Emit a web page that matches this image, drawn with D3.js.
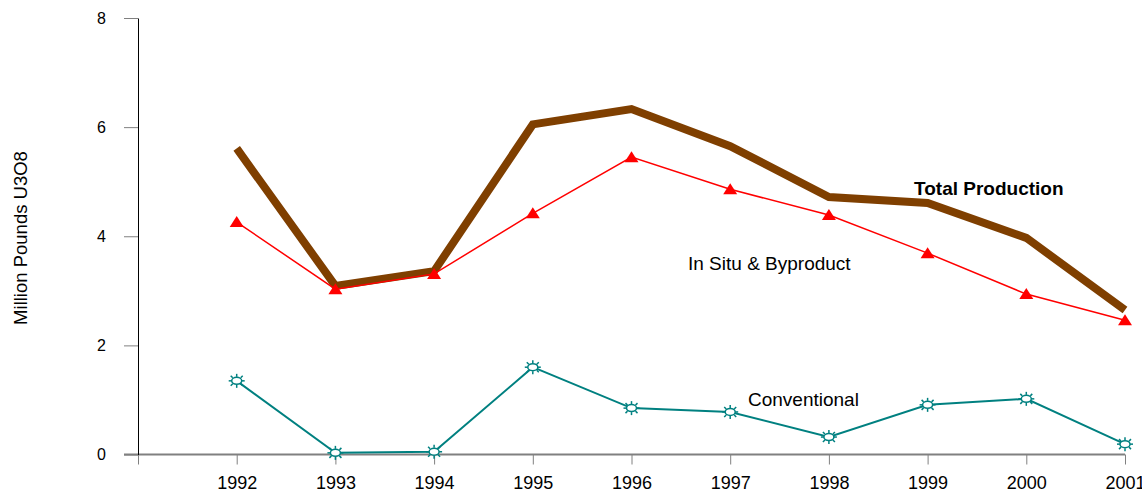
<!DOCTYPE html>
<html>
<head>
<meta charset="utf-8">
<script src="https://cdn.jsdelivr.net/npm/d3@7"></script>
<style>
  body { margin: 0; background: #fff; }
  text { font-family: "Liberation Sans", Arial, sans-serif; }
</style>
</head>
<body>
<script>
// Data
var years = [1992, 1993, 1994, 1995, 1996, 1997, 1998, 1999, 2000, 2001];
var totalProduction = [5.61, 3.09, 3.36, 6.05, 6.33, 5.65, 4.72, 4.61, 3.97, 2.65];
var inSitu = [4.26, 3.03, 3.31, 4.42, 5.45, 4.86, 4.39, 3.69, 2.94, 2.46];
var conventional = [1.35, 0.03, 0.05, 1.60, 0.85, 0.78, 0.32, 0.91, 1.02, 0.19];
var yTicks = [0, 2, 4, 6, 8];

var svgWidth = 1142;
var svgHeight = 495;

var margin = { top: 18, right: 17, bottom: 40, left: 138 };
var width = svgWidth - margin.left - margin.right;
var height = svgHeight - margin.top - margin.bottom;

var svg = d3.select("body")
  .append("svg")
  .attr("width", svgWidth)
  .attr("height", svgHeight);

var chartGroup = svg.append("g")
  .attr("transform", `translate(${margin.left}, ${margin.top})`);

// scales: the y axis sits where 1991 would be
var xScale = d3.scaleLinear()
  .domain([1991, 2001])
  .range([0, 987]);

var yScale = d3.scaleLinear()
  .domain([0, 8])
  .range([height - 0.5, 0]);

// x axis
var bottomAxis = d3.axisBottom(xScale)
  .tickValues([1991].concat(years))
  .tickFormat(d => d === 1991 ? "" : d)
  .tickSizeInner(10)
  .tickSizeOuter(0)
  .tickPadding(12);

var xAxisG = chartGroup.append("g")
  .attr("transform", `translate(0, ${yScale(0)})`)
  .call(bottomAxis);
xAxisG.select(".domain").remove();
xAxisG.append("line")
  .attr("x1", -14).attr("x2", xScale(2001))
  .attr("stroke", "#808080").attr("stroke-width", 2);
xAxisG.selectAll(".tick line").attr("stroke", "#808080");
xAxisG.selectAll("text")
  .attr("font-size", "18px")
  .attr("fill", "#000")
  .attr("font-family", "Liberation Sans, Arial, sans-serif");

// y axis
var leftAxis = d3.axisLeft(yScale)
  .tickValues(yTicks)
  .tickSizeInner(14)
  .tickSizeOuter(0)
  .tickPadding(18);

var yAxisG = chartGroup.append("g").call(leftAxis);
yAxisG.select(".domain").attr("stroke", "#000");
yAxisG.selectAll(".tick line").attr("stroke", "#808080");
yAxisG.selectAll("text")
  .attr("font-size", "16px")
  .attr("fill", "#000")
  .attr("font-family", "Liberation Sans, Arial, sans-serif");

var line = d3.line()
  .x((d, i) => xScale(years[i]))
  .y(d => yScale(d));

// conventional
chartGroup.append("path")
  .datum(conventional)
  .attr("fill", "none")
  .attr("stroke", "#008080")
  .attr("stroke-width", 2)
  .attr("d", line);

// starburst markers
var sun = chartGroup.selectAll(".sun")
  .data(conventional)
  .enter()
  .append("g")
  .attr("class", "sun")
  .attr("transform", (d, i) => `translate(${xScale(years[i])}, ${yScale(d)})`);
sun.append("ellipse")
  .attr("rx", 5).attr("ry", 3.5)
  .attr("fill", "#fff")
  .attr("stroke", "#008080")
  .attr("stroke-width", 1.5);
sun.selectAll("line")
  .data([[0, -4, 0, -7], [0, 4, 0, 7], [-5, 0, -8, 0], [5, 0, 8, 0],
         [-4, -3, -6, -5], [4, -3, 6, -5], [-4, 3, -6, 5], [4, 3, 6, 5]])
  .enter()
  .append("line")
  .attr("x1", d => d[0]).attr("y1", d => d[1])
  .attr("x2", d => d[2]).attr("y2", d => d[3])
  .attr("stroke", "#008080")
  .attr("stroke-width", 1.5);

// total production
chartGroup.append("path")
  .datum(totalProduction)
  .attr("fill", "none")
  .attr("stroke", "#7f3f00")
  .attr("stroke-width", 8)
  .attr("stroke-linejoin", "miter")
  .attr("d", line);

// in situ & byproduct
chartGroup.append("path")
  .datum(inSitu)
  .attr("fill", "none")
  .attr("stroke", "#ff0000")
  .attr("stroke-width", 1.5)
  .attr("d", line);

chartGroup.selectAll(".tri")
  .data(inSitu)
  .enter()
  .append("path")
  .attr("class", "tri")
  .attr("d", "M0,-6L7,5L-7,5Z")
  .attr("fill", "#ff0000")
  .attr("transform", (d, i) => `translate(${xScale(years[i])}, ${yScale(d)})`);

// series labels
svg.append("text")
  .attr("x", 914).attr("y", 195)
  .attr("font-size", "19px")
  .attr("font-weight", "bold")
  .text("Total Production");

svg.append("text")
  .attr("x", 688).attr("y", 270)
  .attr("font-size", "19px")
  .text("In Situ & Byproduct");

svg.append("text")
  .attr("x", 748).attr("y", 406)
  .attr("font-size", "19px")
  .text("Conventional");

// y axis label
svg.append("text")
  .attr("transform", "rotate(-90)")
  .attr("x", -238)
  .attr("y", 27)
  .attr("text-anchor", "middle")
  .attr("font-size", "18.5px")
  .text("Million Pounds U3O8");
</script>
</body>
</html>
